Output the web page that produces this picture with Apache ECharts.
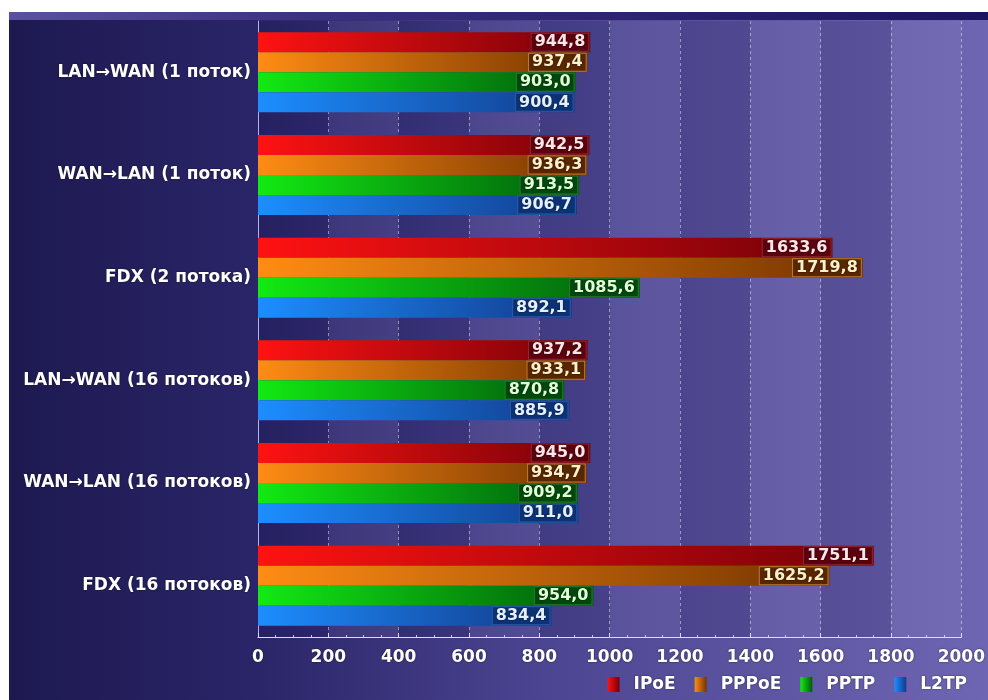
<!DOCTYPE html>
<html>
<head>
<meta charset="utf-8">
<style>
  html, body { margin: 0; padding: 0; background: #ffffff; }
  #chart { width: 988px; height: 700px; }
</style>
<script src="https://cdn.jsdelivr.net/npm/echarts@6/dist/echarts.min.js"></script>
</head>
<body>
<div id="chart"></div>
<script>
// Test scenarios (rows) and throughput per connection type, Mbit/s
const categories = [
  'LAN\u2192WAN (1 поток)',
  'WAN\u2192LAN (1 поток)',
  'FDX (2 потока)',
  'LAN\u2192WAN (16 потоков)',
  'WAN\u2192LAN (16 потоков)',
  'FDX (16 потоков)'
];
const seriesNames = ['IPoE', 'PPPoE', 'PPTP', 'L2TP'];
const ipoe  = [944.8, 942.5, 1633.6, 937.2, 945.0, 1751.1];
const pppoe = [937.4, 936.3, 1719.8, 933.1, 934.7, 1625.2];
const pptp  = [903.0, 913.5, 1085.6, 870.8, 909.2, 954.0];
const l2tp  = [900.4, 906.7, 892.1, 885.9, 911.0, 834.4];
const axisTicks = [0, 200, 400, 600, 800, 1000, 1200, 1400, 1600, 1800, 2000];

const FONT = '"DejaVu Sans", Verdana, sans-serif';

// bright -> dark gradient along each bar, plus label box styling
const palette = [
  { from: '#ff1212', to: '#740008', box: '#5c000e', border: '#8c2a34', text: '#ffe6e6' },
  { from: '#ff8c14', to: '#743400', box: '#582600', border: '#c27a32', text: '#fff0cc' },
  { from: '#12ea12', to: '#005a0c', box: '#00480e', border: '#2a7a2a', text: '#e2ffd6' },
  { from: '#1c8eff', to: '#123a8a', box: '#0c3276', border: '#2c5aa6', text: '#e2f0ff' }
];

const values = [ipoe, pppoe, pptp, l2tp];

function grad(c) {
  return new echarts.graphic.LinearGradient(0, 0, 1, 0, [
    { offset: 0, color: c.from },
    { offset: 1, color: c.to }
  ]);
}

const series = seriesNames.map((name, i) => ({
  name: name,
  type: 'bar',
  data: values[i],
  barGap: '0%',
  barCategoryGap: '22%',
  itemStyle: { color: grad(palette[i]) },
  label: {
    show: true,
    position: 'insideRight',
    offset: [3, 0],
    formatter: p => p.value.toFixed(1).replace('.', ','),
    fontFamily: FONT,
    fontWeight: 'bold',
    fontSize: 16,
    color: palette[i].text,
    backgroundColor: palette[i].box,
    borderColor: palette[i].border,
    borderWidth: 1,
    padding: [1, 3, 0, 3],
    textShadowColor: 'rgba(0,0,0,0.6)',
    textShadowBlur: 2
  },
  emphasis: { disabled: true }
}));

const chart = echarts.init(document.getElementById('chart'), null, { renderer: 'canvas' });

chart.setOption({
  backgroundColor: '#ffffff',
  animation: false,
  graphic: [
    {
      type: 'rect', z: -10, silent: true,
      shape: { x: 9, y: 12, width: 979, height: 688 },
      style: {
        fill: new echarts.graphic.LinearGradient(0, 0, 1, 0, [
          { offset: 0, color: '#1d1950' },
          { offset: 0.25, color: '#2a2568' },
          { offset: 0.55, color: '#4c4592' },
          { offset: 1, color: '#6e66b2' }
        ])
      }
    },
    {
      type: 'rect', z: -9, silent: true,
      shape: { x: 9, y: 12, width: 979, height: 8 },
      style: {
        fill: new echarts.graphic.LinearGradient(0, 0, 1, 0, [
          { offset: 0, color: '#5a52a0' },
          { offset: 0.3, color: '#3a3280' },
          { offset: 1, color: '#1c1460' }
        ])
      }
    }
  ],
  legend: {
    data: seriesNames,
    right: 16,
    bottom: 2,
    itemWidth: 12,
    itemHeight: 15,
    itemGap: 19,
    icon: 'rect',
    textStyle: {
      fontFamily: FONT,
      fontWeight: 'bold',
      fontSize: 17,
      color: '#ffffff',
      padding: [0, 0, 0, 9],
      textShadowColor: 'rgba(0,0,0,0.6)',
      textShadowBlur: 2
    }
  },
  grid: { left: 258, right: 21, top: 21, bottom: 63 },
  xAxis: {
    type: 'value',
    min: axisTicks[0],
    max: axisTicks[axisTicks.length - 1],
    interval: 200,
    axisLine: { show: true, lineStyle: { color: '#dcdcf4', width: 1 } },
    axisTick: { show: true, length: 4, inside: true, lineStyle: { color: '#dcdcf4' } },
    minorTick: { show: true, splitNumber: 4, length: 2, lineStyle: { color: '#c8c8ec' } },
    axisLabel: {
      formatter: v => String(v),
      fontFamily: FONT,
      fontWeight: 'bold',
      fontSize: 17,
      color: '#ffffff',
      margin: 12,
      textShadowColor: 'rgba(0,0,0,0.7)',
      textShadowBlur: 2
    },
    splitLine: { show: true, lineStyle: { color: 'rgba(255,255,255,0.45)', type: [3, 3], width: 1 } },
    splitArea: { show: true, areaStyle: { color: ['rgba(0,0,40,0.12)', 'rgba(255,255,255,0.05)'] } }
  },
  yAxis: {
    type: 'category',
    data: categories,
    inverse: true,
    axisLine: { show: true, lineStyle: { color: '#b4b4e4', width: 1 } },
    axisTick: { show: false },
    axisLabel: {
      fontFamily: FONT,
      fontWeight: 'bold',
      fontSize: 17,
      color: '#ffffff',
      margin: 7,
      textShadowColor: 'rgba(0,0,0,0.6)',
      textShadowBlur: 2
    }
  },
  series: series
});
</script>
</body>
</html>
